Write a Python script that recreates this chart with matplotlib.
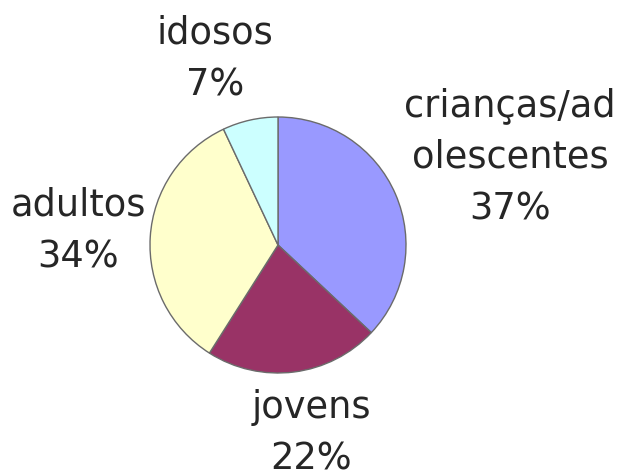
import matplotlib
matplotlib.use("Agg")
import matplotlib.pyplot as plt

categories = ["crianças/ad\nolescentes", "jovens", "adultos", "idosos"]
values = [37, 22, 34, 7]
colors = ["#9999FF", "#993366", "#FFFFCC", "#CCFFFF"]

W, H = 619, 474
fig = plt.figure(figsize=(W / 100, H / 100), dpi=100)
ax = fig.add_axes([0, 0, 1, 1])

cx, cy, r = 278, H - 245, 128
ax.pie(values, colors=colors, startangle=90, counterclock=False,
       center=(cx, cy), radius=r, frame=True,
       wedgeprops=dict(edgecolor="#6b6b6b", linewidth=1.0))
ax.set_xlim(0, W)
ax.set_ylim(0, H)
ax.set_aspect("equal")
ax.axis("off")

# label anchor positions (x center, last-line baseline in pixels from top)
label_pos = [(510, 219), (311, 469), (78, 267), (215, 95)]
for cat, val, (lx, ly) in zip(categories, values, label_pos):
    ax.text(lx, H - ly, f"{cat}\n{val}%", ha="center", va="baseline",
            multialignment="center", fontsize=26.5, family="DejaVu Sans",
            color="#262626", linespacing=1.5)

fig.savefig("out.png", dpi=100)
